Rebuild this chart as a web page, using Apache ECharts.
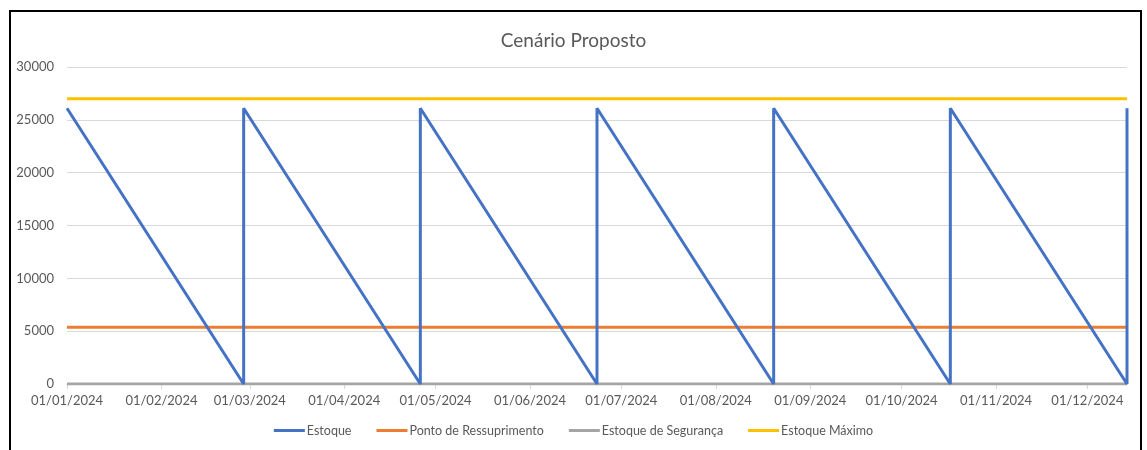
<!DOCTYPE html>
<html>
<head>
<meta charset="utf-8">
<script src="https://cdn.jsdelivr.net/npm/echarts@6/dist/echarts.min.js"></script>
<style>
  html, body { margin: 0; padding: 0; background: #fff; }
  #chart { width: 1147px; height: 450px; }
</style>
</head>
<body>
<div id="chart"></div>
<script>
// datas dos pontos (reposição instantânea => data repetida)
const estoqueDatas = [
  '2024-01-01', '2024-02-28', '2024-02-28', '2024-04-26', '2024-04-26',
  '2024-06-23', '2024-06-23', '2024-08-20', '2024-08-20', '2024-10-17',
  '2024-10-17', '2024-12-14', '2024-12-14'
]
const estoqueValores = [26100, 0, 26100, 0, 26100, 0, 26100, 0, 26100, 0, 26100, 0, 26100]

const linhaDatas = ['2024-01-01', '2024-12-14']
const pontoRessuprimento = [5380, 5380]
const estoqueSeguranca = [0, 0]
const estoqueMaximo = [27000, 27000]

const nomes = ['Estoque', 'Ponto de Ressuprimento', 'Estoque de Segurança', 'Estoque Máximo']
const cores = ['#4472C4', '#ED7D31', '#A5A5A5', '#FFC000']

const fonte = 'Lato, "Noto Sans", sans-serif'
const pares = (datas, vals) => datas.map((d, i) => [d, vals[i]])

const chart = echarts.init(document.getElementById('chart'))
chart.setOption({
  animation: false,
  color: cores,
  textStyle: { fontFamily: fonte },
  title: {
    text: 'Cenário Proposto',
    left: 'center',
    top: 26,
    textStyle: { fontFamily: fonte, fontSize: 19, fontWeight: 'normal', color: '#595959' }
  },
  legend: {
    bottom: 8,
    left: 'center',
    icon: 'rect',
    itemWidth: 31,
    itemHeight: 3,
    itemGap: 25,
    textStyle: { fontFamily: fonte, fontSize: 12.5, color: '#595959', padding: [0, 0, 0, -3] },
    data: nomes
  },
  grid: { left: 67, right: 20, top: 67, bottom: 66, containLabel: false },
  xAxis: {
    type: 'time',
    min: '2024-01-01',
    max: '2024-12-14',
    minInterval: 28 * 86400000,
    maxInterval: 31 * 86400000,
    axisLine: { lineStyle: { color: '#D9D9D9', width: 1 } },
    axisTick: { show: true, length: 5, lineStyle: { color: '#D9D9D9' } },
    splitLine: { show: false },
    axisLabel: {
      formatter: '{dd}/{MM}/{yyyy}',
      color: '#595959',
      fontSize: 13,
      fontFamily: fonte,
      margin: 10,
      hideOverlap: false
    }
  },
  yAxis: {
    type: 'value',
    min: 0,
    max: 30000,
    interval: 5000,
    axisLine: { show: false },
    axisTick: { show: false },
    splitLine: { lineStyle: { color: '#D9D9D9', width: 1 } },
    axisLabel: { color: '#595959', fontSize: 13, fontFamily: fonte, margin: 13, formatter: v => String(v) }
  },
  graphic: [{
    type: 'rect',
    shape: { x: 10, y: 11, width: 1131, height: 460 },
    style: { fill: 'none', stroke: '#000', lineWidth: 2 },
    silent: true
  }],
  series: [
    { name: nomes[0], type: 'line', showSymbol: false, lineStyle: { width: 3 }, data: pares(estoqueDatas, estoqueValores), z: 4 },
    { name: nomes[1], type: 'line', showSymbol: false, lineStyle: { width: 3 }, data: pares(linhaDatas, pontoRessuprimento), z: 3 },
    { name: nomes[2], type: 'line', showSymbol: false, lineStyle: { width: 3 }, data: pares(linhaDatas, estoqueSeguranca), z: 3 },
    { name: nomes[3], type: 'line', showSymbol: false, lineStyle: { width: 3 }, data: pares(linhaDatas, estoqueMaximo), z: 3 }
  ]
})
</script>
</body>
</html>
